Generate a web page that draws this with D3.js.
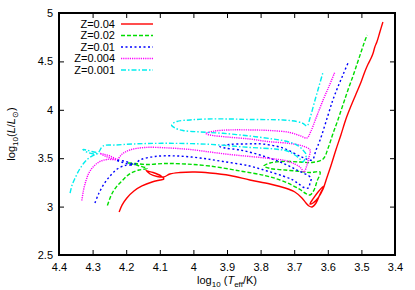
<!DOCTYPE html>
<html>
<head>
<meta charset="utf-8">
<script src="https://cdn.jsdelivr.net/npm/d3@7"></script>
<style>
  body { margin: 0; background: #fff; }
  text { font-family: "Liberation Sans", Arial, sans-serif; }
</style>
</head>
<body>
<div class="chart"></div>
<script>
// tracks as [log10 Teff, log10 L/Lsun]
const trackZ004 = [
  [4.221,2.944],[4.212,3.017],[4.198,3.089],[4.177,3.161],[4.153,3.213],[4.123,3.254],[4.099,3.275],[4.088,3.285],
  [4.096,3.316],[4.120,3.352],[4.138,3.368],[4.141,3.375],[4.129,3.337],[4.108,3.311],[4.088,3.306],[4.070,3.337],
  [4.040,3.352],[3.995,3.357],[3.951,3.347],[3.891,3.321],[3.832,3.275],[3.772,3.233],[3.727,3.192],[3.698,3.151],
  [3.677,3.089],[3.665,3.037],[3.656,3.006],[3.647,2.996],[3.635,3.037],[3.623,3.130],[3.611,3.213],
  [3.629,3.151],[3.644,3.079],[3.653,3.027],[3.644,3.037],[3.629,3.089],[3.614,3.182],
  [3.605,3.275],[3.590,3.430],[3.576,3.585],[3.561,3.740],[3.546,3.905],[3.531,4.039],[3.516,4.163],[3.501,4.287],
  [3.489,4.401],[3.480,4.473],[3.471,4.535],[3.465,4.587],[3.460,4.649],[3.454,4.700],[3.445,4.804],[3.436,4.907]
]
const trackZ002 = [
  [4.256,3.011],[4.248,3.089],[4.238,3.161],[4.226,3.218],[4.213,3.264],[4.198,3.316],[4.183,3.352],[4.162,3.378],[4.138,3.394],
  [4.165,3.425],[4.189,3.445],[4.195,3.450],[4.174,3.445],[4.138,3.435],[4.085,3.445],[4.025,3.440],[3.951,3.419],
  [3.861,3.368],[3.787,3.321],[3.742,3.275],[3.707,3.223],[3.683,3.177],[3.665,3.135],[3.653,3.120],
  [3.641,3.171],[3.632,3.264],[3.623,3.357],
  [3.653,3.352],[3.683,3.363],[3.727,3.378],[3.772,3.394],[3.790,3.419],
  [3.772,3.450],[3.736,3.466],[3.683,3.461],[3.647,3.456],[3.614,3.492],
  [3.599,3.605],[3.585,3.750],[3.570,3.895],[3.555,4.050],[3.540,4.205],[3.525,4.349],[3.513,4.473],[3.501,4.597],
  [3.492,4.690],[3.483,4.773]
]
const trackZ001 = [
  [4.293,3.037],[4.281,3.140],[4.266,3.233],[4.248,3.316],[4.227,3.388],[4.204,3.425],[4.180,3.435],
  [4.201,3.466],[4.224,3.481],[4.230,3.481],[4.215,3.461],[4.195,3.440],[4.177,3.430],
  [4.159,3.481],[4.114,3.518],[4.049,3.523],[3.980,3.502],[3.912,3.466],[3.832,3.419],[3.781,3.368],[3.733,3.316],
  [3.704,3.275],[3.686,3.233],[3.671,3.197],[3.658,3.192],
  [3.653,3.244],[3.650,3.295],
  [3.692,3.378],[3.742,3.461],[3.802,3.533],[3.861,3.585],[3.906,3.605],[3.921,3.621],
  [3.891,3.642],[3.846,3.647],[3.796,3.647],[3.733,3.605],[3.677,3.512],[3.647,3.481],
  [3.635,3.585],[3.623,3.688],[3.601,3.926],[3.585,4.101],[3.570,4.236],[3.555,4.360],[3.540,4.483]
]
const trackZ0004 = [
  [4.332,3.063],[4.327,3.171],[4.320,3.264],[4.311,3.347],[4.296,3.419],[4.278,3.466],[4.257,3.487],[4.230,3.487],
  [4.248,3.523],[4.269,3.543],[4.278,3.549],[4.260,3.518],[4.239,3.492],[4.227,3.487],
  [4.212,3.543],[4.189,3.585],[4.144,3.611],[4.070,3.605],[4.010,3.590],[3.951,3.564],[3.891,3.538],[3.832,3.518],
  [3.772,3.497],[3.727,3.476],[3.698,3.440],[3.680,3.399],[3.671,3.357],
  [3.662,3.430],[3.656,3.512],[3.653,3.585],
  [3.674,3.626],[3.713,3.652],[3.781,3.673],[3.832,3.698],[3.900,3.719],[3.951,3.740],[3.963,3.755],
  [3.936,3.781],[3.891,3.792],[3.832,3.792],[3.772,3.786],[3.713,3.766],[3.680,3.729],[3.662,3.709],
  [3.650,3.781],[3.635,3.915],[3.614,4.101],[3.596,4.246],[3.579,4.390]
]
const trackZ0001 = [
  [4.367,3.140],[4.361,3.223],[4.352,3.295],[4.340,3.378],[4.326,3.450],[4.311,3.502],[4.296,3.533],[4.284,3.549],
  [4.302,3.569],[4.320,3.585],[4.329,3.590],[4.314,3.559],[4.296,3.543],[4.284,3.554],
  [4.269,3.626],[4.233,3.636],[4.180,3.647],[4.079,3.654],[3.951,3.643],[3.832,3.611],[3.757,3.595],[3.721,3.574],
  [3.698,3.533],[3.683,3.492],[3.674,3.461],
  [3.668,3.492],[3.664,3.533],
  [3.674,3.585],[3.692,3.636],[3.727,3.678],[3.763,3.698],[3.832,3.729],[3.912,3.757],[3.980,3.771],[4.031,3.786],
  [4.055,3.812],[4.065,3.843],
  [4.049,3.879],[4.010,3.895],[3.960,3.905],[3.891,3.905],[3.832,3.900],[3.733,3.895],[3.692,3.879],[3.674,3.860],[3.662,3.833],
  [3.653,3.915],[3.638,4.101],[3.626,4.246],[3.614,4.390]
]

const seriesLabels = ["Z=0.04", "Z=0.02", "Z=0.01", "Z=0.004", "Z=0.001"]
const seriesTracks = [trackZ004, trackZ002, trackZ001, trackZ0004, trackZ0001]

const xTicks = [4.4, 4.3, 4.2, 4.1, 4, 3.9, 3.8, 3.7, 3.6, 3.5, 3.4]
const yTicks = [2.5, 3, 3.5, 4, 4.5, 5]

const styles = [
  { color: "#ff0000", dash: null },
  { color: "#00dd00", dash: "4,2" },
  { color: "#0000ff", dash: "2,2.5" },
  { color: "#ff00ff", dash: "1.2,1" },
  { color: "#00eeee", dash: "5,2,1.5,2" }
]

let dims = {
  width: 415,
  height: 290,
  margin: { top: 13, right: 20, bottom: 35, left: 59 }
}
dims.boundedWidth = dims.width - dims.margin.left - dims.margin.right
dims.boundedHeight = dims.height - dims.margin.top - dims.margin.bottom

const xScale = d3.scaleLinear()
  .domain([4.4, 3.4])
  .range([0, dims.boundedWidth])

const yScale = d3.scaleLinear()
  .domain([2.5, 5])
  .range([dims.boundedHeight, 0])

const lineGenerator = d3.line()
  .x(d => xScale(d[0]))
  .y(d => yScale(d[1]))
  .curve(d3.curveCatmullRom.alpha(0.5))

const svg = d3.select(".chart").append("svg")
  .attr("width", dims.width)
  .attr("height", dims.height)

const bounds = svg.append("g")
  .attr("transform", `translate(${dims.margin.left},${dims.margin.top})`)

bounds.append("clipPath").attr("id", "clip")
  .append("rect")
  .attr("width", dims.boundedWidth)
  .attr("height", dims.boundedHeight)

// tracks
bounds.append("g").attr("clip-path", "url(#clip)")
  .selectAll("path")
  .data(seriesTracks)
  .join("path")
    .attr("d", d => lineGenerator(d))
    .attr("fill", "none")
    .attr("stroke", (d, i) => styles[i].color)
    .attr("stroke-width", 1.4)
    .attr("stroke-dasharray", (d, i) => styles[i].dash)

// axes, ticks pointing inward on every side
const styleAxis = g => {
  g.select(".domain").remove()
  g.selectAll(".tick line").attr("stroke", "#000").attr("stroke-width", 1)
  g.selectAll(".tick text").attr("fill", "#000").style("font-size", "11px")
}

bounds.append("g")
  .attr("transform", `translate(0,${dims.boundedHeight})`)
  .call(d3.axisBottom(xScale).tickValues(xTicks).tickSizeInner(-5).tickSizeOuter(0).tickPadding(8).tickFormat(d3.format("")))
  .call(styleAxis)

bounds.append("g")
  .call(d3.axisTop(xScale).tickValues(xTicks).tickSizeInner(-5).tickSizeOuter(0).tickFormat(""))
  .call(styleAxis)

bounds.append("g")
  .call(d3.axisLeft(yScale).tickValues(yTicks).tickSizeInner(-5).tickSizeOuter(0).tickPadding(6).tickFormat(d3.format("")))
  .call(styleAxis)

bounds.append("g")
  .attr("transform", `translate(${dims.boundedWidth},0)`)
  .call(d3.axisRight(yScale).tickValues(yTicks).tickSizeInner(-5).tickSizeOuter(0).tickFormat(""))
  .call(styleAxis)

// frame
bounds.append("rect")
  .attr("width", dims.boundedWidth)
  .attr("height", dims.boundedHeight)
  .attr("fill", "none")
  .attr("stroke", "#000")
  .attr("stroke-width", 2)

// legend
const legend = bounds.selectAll(".legend")
  .data(seriesLabels)
  .join("g")
    .attr("class", "legend")
    .attr("transform", (d, i) => `translate(0,${11 + i * 11.5})`)

legend.append("text")
  .attr("x", 56)
  .attr("dy", "0.35em")
  .attr("text-anchor", "end")
  .style("font-size", "11px")
  .text(d => d)

legend.append("line")
  .attr("x1", 62)
  .attr("x2", 94)
  .attr("stroke", (d, i) => styles[i].color)
  .attr("stroke-width", 1.4)
  .attr("stroke-dasharray", (d, i) => styles[i].dash)

// axis titles
const xTitle = svg.append("text")
  .attr("x", dims.margin.left + dims.boundedWidth / 2)
  .attr("y", 284)
  .attr("text-anchor", "middle")
  .style("font-size", "11px")
xTitle.append("tspan").text("log")
xTitle.append("tspan").attr("dy", 2.5).style("font-size", "8px").text("10")
xTitle.append("tspan").attr("dy", -2.5).text(" (")
xTitle.append("tspan").style("font-style", "italic").text("T")
xTitle.append("tspan").attr("dy", 2.5).style("font-size", "8px").text("eff")
xTitle.append("tspan").attr("dy", -2.5).text("/K)")

const yTitle = svg.append("text")
  .attr("transform", `translate(15,${dims.margin.top + dims.boundedHeight / 2}) rotate(-90)`)
  .attr("text-anchor", "middle")
  .style("font-size", "11px")
yTitle.append("tspan").text("log")
yTitle.append("tspan").attr("dy", 2.5).style("font-size", "8px").text("10")
yTitle.append("tspan").attr("dy", -2.5).text("(")
yTitle.append("tspan").style("font-style", "italic").text("L")
yTitle.append("tspan").text("/")
yTitle.append("tspan").style("font-style", "italic").text("L")
yTitle.append("tspan").attr("dy", 2.5).style("font-size", "8px").text("\u2299")
yTitle.append("tspan").attr("dy", -2.5).text(")")
</script>
</body>
</html>
